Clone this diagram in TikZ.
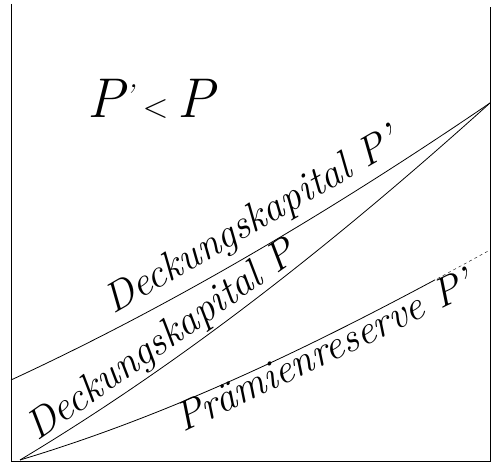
\documentclass[tikz,border=0pt]{standalone}
\usepackage{fontspec}

\begin{document}
\begin{tikzpicture}[x=1pt,y=1pt,
    kurve/.style={line width=0.8pt},
    beschriftung/.style={font=\fontsize{41}{48}\selectfont\itshape, inner sep=0pt, anchor=base west}]
  \useasboundingbox (0,0) rectangle (495,463);
  % 边框
  \draw[line width=1pt] (11,459) -- (11,2) -- (490,2) -- (490,456);
  % 端点
  \coordinate (A) at (20,3);
  \coordinate (B) at (11,83);
  \coordinate (C) at (490,360);
  \coordinate (D) at (490,213);
  % Deckungskapital P'
  \draw[kurve] (B) .. controls (171,157) and (330,251) .. (C);
  % Deckungskapital P
  \draw[kurve] (A) .. controls (180,99) and (330,216) .. (C);
  % Prämienreserve P'（右端虚线）
  \begin{scope}
    \clip (0,0) rectangle (435,463);
    \draw[kurve] (A) .. controls (180,51) and (330,125) .. (D);
  \end{scope}
  \begin{scope}
    \clip (435,0) rectangle (495,463);
    \draw[thin,dashed] (A) .. controls (180,51) and (330,125) .. (D);
  \end{scope}
  % 文字
  \node[font=\fontsize{56}{60}\selectfont\itshape, anchor=base west, inner sep=0pt] (titel) at (87,345)
    {P\raisebox{12pt}{\fontsize{30}{30}\selectfont’}\,{\upshape\fontsize{34}{40}\selectfont <}\,P};
  \node[beschriftung, rotate=30] (dkpstrich) at (113,148) {Deckungskapital P’};
  \node[beschriftung, rotate=35] (dkp) at (37,21) {Deckungskapital P};
  \node[beschriftung, rotate=25.6] (prr) at (183,30) {Prämienreserve P’};
\end{tikzpicture}
\end{document}
